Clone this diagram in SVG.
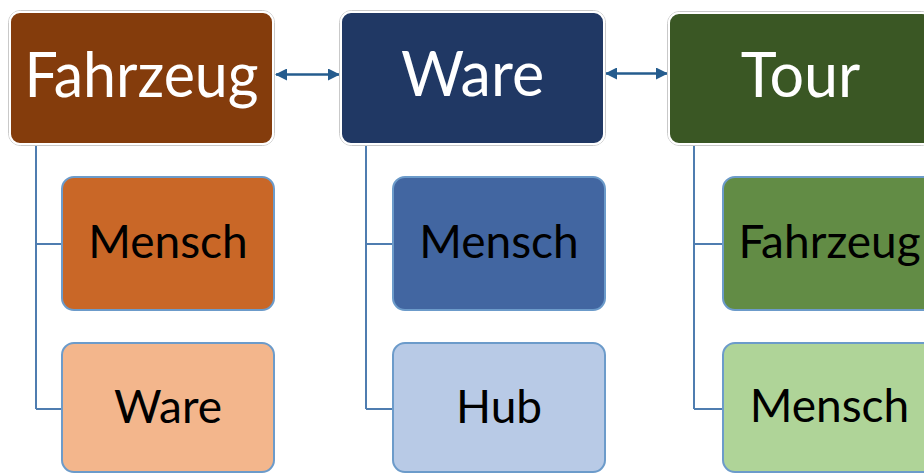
<svg xmlns="http://www.w3.org/2000/svg" width="924" height="473" viewBox="0 0 924 473">
<defs>
<style>
.outer{fill:none;stroke:#c9c9c9;stroke-width:1}
.top{stroke:#ffffff;stroke-width:2}
.child{stroke:#6c9bca;stroke-width:2}
.tl{font-family:Lato,"Open Sans",sans-serif;font-size:61px;fill:#ffffff;text-anchor:middle}
.cl{font-family:Lato,"Open Sans",sans-serif;font-size:46px;fill:#000000;text-anchor:middle}
.conn{fill:none;stroke:#4f7db0;stroke-width:2}
.arr{fill:none;stroke:#255c8e;stroke-width:2.5}
</style>
<marker id="ah" viewBox="0 0 12 12" refX="11" refY="6" markerWidth="12" markerHeight="12" markerUnits="userSpaceOnUse" orient="auto-start-reverse">
<path d="M0,0 L12,6 L0,12 Z" fill="#255c8e"/>
</marker>
</defs>
<rect width="924" height="473" fill="#ffffff"/>
<g id="connectors">
<path class="conn" d="M36,145 V409 M36,244 H62 M36,409 H62"/>
<path class="conn" d="M366,145 V409 M366,244 H393 M366,409 H393"/>
<path class="conn" d="M694,145 V409 M694,244 H723 M694,409 H723"/>
<line class="arr" x1="276" y1="74.5" x2="339" y2="74.5" marker-start="url(#ah)" marker-end="url(#ah)"/>
<line class="arr" x1="606" y1="73.5" x2="667" y2="73.5" marker-start="url(#ah)" marker-end="url(#ah)"/>
</g>
<g id="fahrzeug">
<rect class="outer" x="8.5" y="10.5" width="266" height="135" rx="12"/>
<rect class="top" x="10" y="12" width="263" height="132" rx="10" fill="#843c0c"/>
<text class="tl" x="141.5" y="97" textLength="234" lengthAdjust="spacingAndGlyphs">Fahrzeug</text>
</g>
<g id="ware">
<rect class="outer" x="339.5" y="10.5" width="266" height="135" rx="12"/>
<rect class="top" x="341" y="12" width="263" height="132" rx="10" fill="#203864"/>
<text class="tl" x="472.5" y="96">Ware</text>
</g>
<g id="tour">
<rect class="outer" x="667.5" y="11.5" width="266" height="134" rx="12"/>
<rect class="top" x="669" y="13" width="263" height="131" rx="10" fill="#3a5724"/>
<text class="tl" x="800.5" y="97">Tour</text>
</g>
<g id="fahrzeug-mensch">
<rect class="child" x="62" y="177" width="212" height="133" rx="12" fill="#c96727"/>
<text class="cl" x="168" y="258">Mensch</text>
</g>
<g id="fahrzeug-ware">
<rect class="child" x="62" y="343" width="212" height="129" rx="12" fill="#f3b68c"/>
<text class="cl" x="168" y="423">Ware</text>
</g>
<g id="ware-mensch">
<rect class="child" x="393" y="177" width="212" height="133" rx="12" fill="#4266a1"/>
<text class="cl" x="499" y="258">Mensch</text>
</g>
<g id="ware-hub">
<rect class="child" x="393" y="343" width="212" height="129" rx="12" fill="#b8cae6"/>
<text class="cl" x="499" y="423">Hub</text>
</g>
<g id="tour-fahrzeug">
<rect class="child" x="723" y="177" width="213" height="133" rx="12" fill="#628c45"/>
<text class="cl" x="829.5" y="258">Fahrzeug</text>
</g>
<g id="tour-mensch">
<rect class="child" x="723" y="343" width="213" height="129" rx="12" fill="#afd498"/>
<text class="cl" x="829.5" y="422">Mensch</text>
</g>
</svg>
